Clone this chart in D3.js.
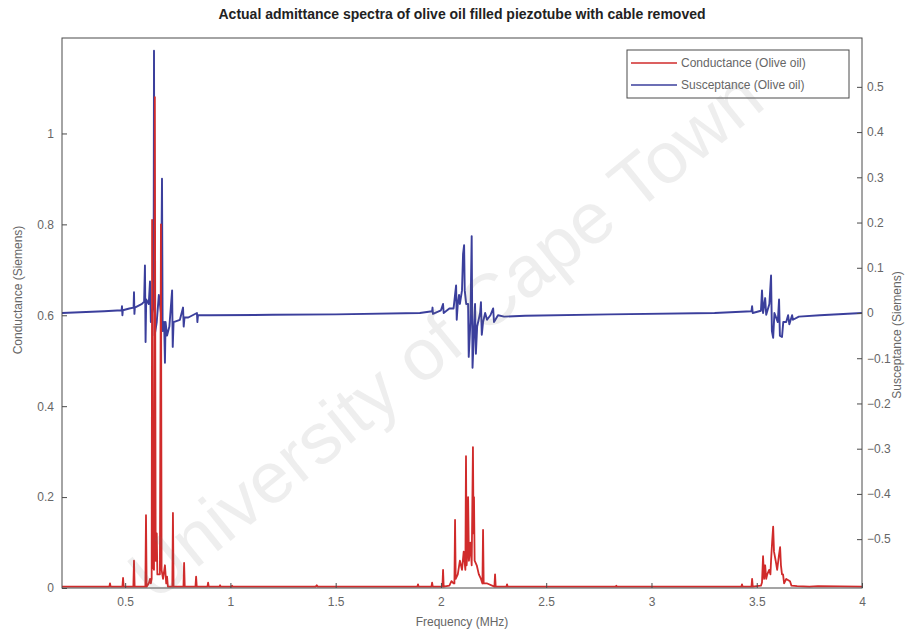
<!DOCTYPE html>
<html lang="en">
  <head>
    <meta charset="UTF-8" />
    <title>Admittance spectra: olive oil</title>
    <script src="https://d3js.org/d3.v7.min.js"></script>
    <style>
      body { margin: 0; background: #fff; }
      text { font-family: "Liberation Sans", Arial, sans-serif; }
    </style>
  </head>
  <body>
    <div id="chart"></div>

    <script>
      // Frequency ticks (MHz) and the two y axis ticks
      const freqTicks = [0.5, 1, 1.5, 2, 2.5, 3, 3.5, 4];
      const condTicks = [0, 0.2, 0.4, 0.6, 0.8, 1];
      const suscTicks = [-0.5, -0.4, -0.3, -0.2, -0.1, 0, 0.1, 0.2, 0.3, 0.4, 0.5];

      // Conductance (Olive oil)
      const condFreq = [
        0.2, 0.425, 0.428, 0.431, 0.487, 0.49, 0.493, 0.539, 0.542, 0.545,
        0.596, 0.599, 0.602, 0.612, 0.618, 0.622, 0.626, 0.628, 0.631, 0.637,
        0.641, 0.645, 0.65, 0.653, 0.665, 0.67, 0.673, 0.68, 0.689, 0.695,
        0.699, 0.703, 0.724, 0.727, 0.73, 0.777, 0.78, 0.783, 0.834, 0.837,
        0.84, 0.891, 0.894, 0.897, 0.948, 0.951, 0.954, 1.005, 1.008, 1.011,
        1.405, 1.41, 1.415, 1.888, 1.891, 1.894, 1.955, 1.958, 1.961, 2.007,
        2.01, 2.013, 2.04, 2.05, 2.06, 2.064, 2.067, 2.07, 2.08, 2.09,
        2.1, 2.108, 2.116, 2.119, 2.122, 2.126, 2.129, 2.133, 2.14, 2.146,
        2.152, 2.155, 2.157, 2.16, 2.17, 2.18, 2.19, 2.197, 2.2, 2.203,
        2.22, 2.254, 2.257, 2.26, 2.311, 2.314, 2.317, 2.83, 2.833, 2.836,
        3.427, 3.43, 3.433, 3.475, 3.478, 3.481, 3.52, 3.525, 3.53, 3.535,
        3.54, 3.545, 3.55, 3.559, 3.565, 3.568, 3.573, 3.578, 3.582, 3.59,
        3.597, 3.605, 3.611, 3.615, 3.62, 3.625, 3.63, 3.64, 3.658, 3.665,
        3.692, 3.75, 3.791, 4.0,
      ];
      const condVal = [
        0.003, 0.003, 0.01, 0.003, 0.003, 0.022, 0.003, 0.003, 0.06, 0.003,
        0.003, 0.16, 0.003, 0.01, 0.02, 0.01, 0.02, 0.81, 0.05, 0.04,
        1.08, 0.06, 0.12, 0.03, 0.03, 0.8, 0.04, 0.02, 0.05, 0.01,
        0.025, 0.003, 0.003, 0.165, 0.003, 0.003, 0.055, 0.003, 0.003, 0.025,
        0.003, 0.003, 0.012, 0.003, 0.003, 0.006, 0.003, 0.003, 0.005, 0.003,
        0.003, 0.006, 0.003, 0.003, 0.008, 0.003, 0.003, 0.012, 0.003, 0.003,
        0.04, 0.003, 0.005, 0.015, 0.01, 0.01, 0.15, 0.02, 0.03, 0.06,
        0.04, 0.08, 0.04, 0.29, 0.05, 0.08, 0.2, 0.06, 0.1, 0.05,
        0.31, 0.12, 0.2, 0.06, 0.05, 0.03, 0.02, 0.01, 0.128, 0.01,
        0.01, 0.003, 0.03, 0.003, 0.003, 0.008, 0.003, 0.003, 0.005, 0.003,
        0.003, 0.008, 0.003, 0.003, 0.02, 0.003, 0.005, 0.012, 0.07, 0.02,
        0.05, 0.02, 0.03, 0.04, 0.03, 0.06, 0.1, 0.135, 0.08, 0.06,
        0.04, 0.07, 0.09, 0.05, 0.03, 0.03, 0.01, 0.02, 0.015, 0.005,
        0.004, 0.003, 0.004, 0.003,
      ];

      // Susceptance (Olive oil)
      const suscFreq = [
        0.2, 0.4, 0.483, 0.485, 0.487, 0.489, 0.52, 0.54, 0.542, 0.544,
        0.546, 0.58, 0.59, 0.594, 0.597, 0.6, 0.612, 0.618, 0.622, 0.628,
        0.635, 0.637, 0.64, 0.65, 0.66, 0.67, 0.675, 0.678, 0.685, 0.689,
        0.692, 0.699, 0.71, 0.723, 0.726, 0.73, 0.76, 0.775, 0.778, 0.782,
        0.8, 0.841, 0.843, 0.846, 0.9, 1.2, 1.5, 1.9, 1.958, 1.96,
        1.962, 2.0, 2.01, 2.013, 2.04, 2.06, 2.067, 2.072, 2.075, 2.08,
        2.086, 2.09, 2.1, 2.105, 2.11, 2.113, 2.12, 2.129, 2.132, 2.14,
        2.146, 2.15, 2.156, 2.162, 2.166, 2.172, 2.186, 2.19, 2.194, 2.2,
        2.21, 2.219, 2.235, 2.248, 2.252, 2.271, 2.3, 2.4, 2.8, 3.3,
        3.475, 3.478, 3.481, 3.52, 3.525, 3.53, 3.54, 3.545, 3.56, 3.568,
        3.572, 3.578, 3.584, 3.6, 3.606, 3.61, 3.62, 3.626, 3.64, 3.649,
        3.655, 3.668, 3.672, 3.7, 3.8, 4.0,
      ];
      const suscVal = [
        0.0, 0.004, 0.006, 0.015, -0.005, 0.006, 0.01, 0.012, 0.046, -0.002,
        0.012, 0.02, 0.025, 0.105, -0.064, 0.03, 0.02, 0.07, -0.02, 0.0,
        0.02, 0.58, -0.05, -0.02, 0.04, 0.0, 0.297, -0.04, -0.02, -0.11,
        -0.02, -0.05, -0.03, 0.05, -0.075, -0.02, -0.015, 0.012, -0.03, -0.01,
        -0.01, 0.0, -0.02, -0.005, -0.005, -0.004, -0.003, 0.0, 0.004, 0.012,
        -0.002, 0.006, 0.02, 0.0, 0.01, 0.01, 0.04, 0.061, -0.015, 0.02,
        0.04, 0.02, 0.05, 0.13, 0.15, 0.05, 0.02, 0.02, -0.097, -0.02,
        0.17, -0.121, -0.05, 0.02, -0.09, -0.03, 0.0, 0.024, -0.048, -0.02,
        0.0, -0.015, -0.005, 0.01, -0.02, -0.005, -0.008, -0.006, -0.003, 0.0,
        0.004, 0.015, 0.0, 0.005, 0.05, 0.0, 0.033, -0.004, 0.02, 0.083,
        -0.04, -0.055, 0.0, -0.02, 0.03, -0.05, -0.053, -0.02, -0.02, -0.005,
        -0.025, -0.005, -0.015, -0.008, -0.005, 0.0,
      ];

      const width = 915,
        height = 635;
      const margin = { top: 38, right: 53, bottom: 47, left: 62 };
      const innerW = width - margin.left - margin.right,
        innerH = height - margin.top - margin.bottom;

      const svg = d3
        .select("#chart")
        .append("svg")
        .attr("width", width)
        .attr("height", height);

      const g = svg
        .append("g")
        .attr("transform", `translate(${margin.left},${margin.top})`);

      const x = d3.scaleLinear().domain([0.2, 4]).range([0, innerW]);
      const yL = d3.scaleLinear().domain([0, 1.21]).range([innerH, 0]);
      const yR = d3.scaleLinear().domain([-0.608, 0.608]).range([innerH, 0]);

      const condData = condFreq.map((f, i) => [f, condVal[i]]);
      const suscData = suscFreq.map((f, i) => [f, suscVal[i]]);

      // clip so nothing leaks outside the box
      svg
        .append("clipPath")
        .attr("id", "plotclip")
        .append("rect")
        .attr("width", innerW)
        .attr("height", innerH);

      const plot = g.append("g").attr("clip-path", "url(#plotclip)");

      // susceptance first, conductance drawn over it
      plot
        .append("path")
        .datum(suscData)
        .attr("fill", "none")
        .attr("stroke", "#3b3f9c")
        .attr("stroke-width", 1.9)
        .attr("stroke-linejoin", "round")
        .attr(
          "d",
          d3
            .line()
            .x((d) => x(d[0]))
            .y((d) => yR(d[1]))
        );

      plot
        .append("path")
        .datum(condData)
        .attr("fill", "none")
        .attr("stroke", "#d02b2b")
        .attr("stroke-width", 1.8)
        .attr("stroke-linejoin", "round")
        .attr(
          "d",
          d3
            .line()
            .x((d) => x(d[0]))
            .y((d) => yL(d[1]))
        );

      // axes, ticks pointing inwards like the original
      const axisColor = "#4a4a4a",
        labelColor = "#666";

      const xAxis = g
        .append("g")
        .attr("transform", `translate(0,${innerH})`)
        .call(
          d3
            .axisBottom(x)
            .tickValues(freqTicks)
            .tickFormat(d3.format("~g"))
            .tickSize(-5)
            .tickPadding(9)
        );

      const leftAxis = g.append("g").call(
        d3
          .axisLeft(yL)
          .tickValues(condTicks)
          .tickFormat(d3.format("~g"))
          .tickSize(-5)
          .tickPadding(8)
      );

      const rightAxis = g
        .append("g")
        .attr("transform", `translate(${innerW},0)`)
        .call(
          d3
            .axisRight(yR)
            .tickValues(suscTicks)
            .tickFormat(d3.format("~g"))
            .tickSize(-5)
            .tickPadding(5)
        );

      [xAxis, leftAxis, rightAxis].forEach((a) => {
        a.select(".domain").remove();
        a.selectAll(".tick line").attr("stroke", axisColor);
        a.selectAll(".tick text")
          .attr("fill", labelColor)
          .attr("font-size", 12)
          .style("font-family", "'Liberation Sans', Arial, sans-serif");
      });

      // box around the plot
      g.append("rect")
        .attr("width", innerW)
        .attr("height", innerH)
        .attr("fill", "none")
        .attr("stroke", axisColor)
        .attr("stroke-width", 1);

      // title and labels
      svg
        .append("text")
        .attr("x", 462)
        .attr("y", 19)
        .attr("text-anchor", "middle")
        .attr("font-size", 14)
        .attr("font-weight", "bold")
        .attr("fill", "#222")
        .text(
          "Actual admittance spectra of olive oil filled piezotube with cable removed"
        );

      svg
        .append("text")
        .attr("x", margin.left + innerW / 2)
        .attr("y", 626)
        .attr("text-anchor", "middle")
        .attr("font-size", 12)
        .attr("fill", labelColor)
        .text("Frequency (MHz)");

      svg
        .append("text")
        .attr("transform", "translate(22,290) rotate(-90)")
        .attr("text-anchor", "middle")
        .attr("font-size", 12)
        .attr("fill", labelColor)
        .text("Conductance (Siemens)");

      svg
        .append("text")
        .attr("transform", "translate(901,335) rotate(-90)")
        .attr("text-anchor", "middle")
        .attr("font-size", 12)
        .attr("fill", labelColor)
        .text("Susceptance (Siemens)");

      // legend
      const legendItems = [
        { name: "Conductance (Olive oil)", color: "#d02b2b" },
        { name: "Susceptance (Olive oil)", color: "#3b3f9c" },
      ];
      const legend = svg.append("g").attr("transform", "translate(627,50)");
      legend
        .append("rect")
        .attr("width", 222)
        .attr("height", 48)
        .attr("fill", "#fff")
        .attr("stroke", axisColor);
      const rows = legend
        .selectAll("g.row")
        .data(legendItems)
        .join("g")
        .attr("class", "row")
        .attr("transform", (d, i) => `translate(0,${13 + i * 22})`);
      rows
        .append("line")
        .attr("x1", 4)
        .attr("x2", 50)
        .attr("stroke", (d) => d.color)
        .attr("stroke-width", 1.5);
      rows
        .append("text")
        .attr("x", 54)
        .attr("dy", "0.35em")
        .attr("font-size", 12)
        .attr("fill", labelColor)
        .text((d) => d.name);

      // faint watermark laid over the whole page
      svg
        .append("text")
        .attr("transform", "translate(445,335) rotate(-39)")
        .attr("text-anchor", "middle")
        .attr("dy", "0.35em")
        .attr("font-size", 72)
        .attr("textLength", 790)
        .attr("lengthAdjust", "spacingAndGlyphs")
        .attr("fill", "#777")
        .attr("fill-opacity", 0.12)
        .style("pointer-events", "none")
        .text("University of Cape Town");
    </script>
  </body>
</html>
